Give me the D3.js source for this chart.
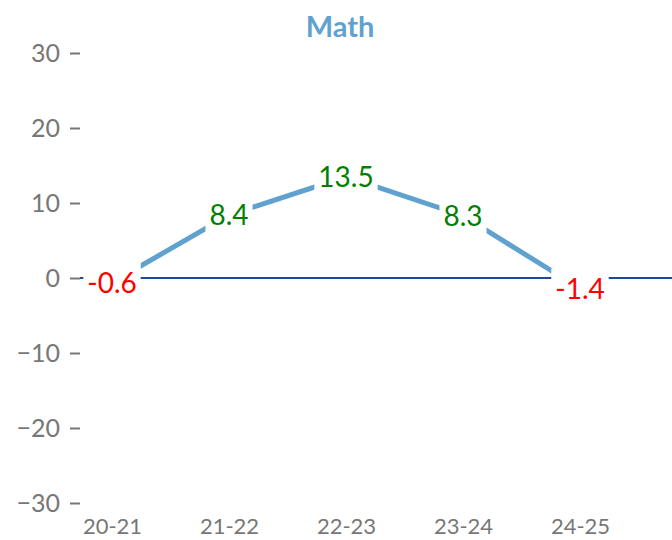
<!DOCTYPE html>
<html><head><meta charset="utf-8">
<script src="https://cdn.jsdelivr.net/npm/d3@7"></script>
<style>body{margin:0;background:#fff}svg{display:block}</style>
</head><body>
<svg id="c" width="672" height="540"></svg>
<script>
const title = "Math";
const categories = ["20-21","21-22","22-23","23-24","24-25"];
const values = [-0.6, 8.4, 13.5, 8.3, -1.4];
const yTicks = [30, 20, 10, 0, -10, -20, -30];

const FONT = "'Gill Sans','Lato','Noto Sans',sans-serif";
const svg = d3.select("#c");
const x = d3.scalePoint().domain(categories).range([112, 580]);
const y = d3.scaleLinear().domain([-30, 30]).range([503, 53]);

svg.append("text").attr("x", 340).attr("y", 37).attr("text-anchor","middle")
  .attr("font-family", FONT).attr("font-weight","bold").attr("font-size", 29)
  .attr("fill", "#5fa2cf").text(title);

// y axis
const yAxis = svg.append("g").attr("transform","translate(80,0)")
  .call(d3.axisLeft(y).tickValues(yTicks).tickSize(10).tickPadding(10)
    .tickFormat(d => d < 0 ? "\u2212" + Math.abs(d) : String(d)));
yAxis.select(".domain").remove();
yAxis.selectAll(".tick line").attr("stroke","#777").attr("stroke-width",2);
yAxis.selectAll(".tick text").attr("fill","#777").attr("font-family",FONT).attr("font-size",25);

// x axis labels
const xAxis = svg.append("g").attr("transform","translate(0,518)")
  .call(d3.axisBottom(x).tickSize(0).tickPadding(0));
xAxis.select(".domain").remove();
xAxis.selectAll(".tick text").attr("fill","#777").attr("font-family",FONT).attr("font-size",22)
  .attr("dy","0.71em");

// zero line
svg.append("line").attr("x1",80).attr("x2",672).attr("y1",y(0)).attr("y2",y(0))
  .attr("stroke","#1a4a9c").attr("stroke-width",2);

// line
const data = categories.map((c,i)=>({c, v: values[i]}));
svg.append("path").datum(data)
  .attr("d", d3.line().x(d=>x(d.c)).y(d=>y(d.v)))
  .attr("fill","none").attr("stroke","#5fa2cf").attr("stroke-width",5);

// labels with white boxes
const lab = svg.append("g").selectAll("g").data(data).join("g")
  .attr("transform", d=>`translate(${x(d.c)},${y(d.v)})`);
lab.append("text").attr("text-anchor","middle").attr("dy","0.36em")
  .attr("font-family",FONT).attr("font-size",28)
  .attr("fill", d=> d.v < 0 ? "#ff0000" : "#008000")
  .text(d=>d.v.toFixed(1));
lab.each(function(){
  const g = d3.select(this);
  const b = g.select("text").node().getBBox();
  g.insert("rect","text").attr("x",b.x-4).attr("y",b.y-2).attr("width",b.width+8).attr("height",b.height+4)
    .attr("fill","#fff");
});
</script>
</body></html>
